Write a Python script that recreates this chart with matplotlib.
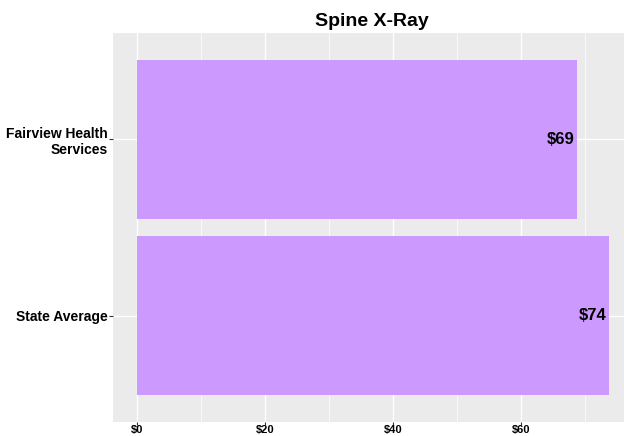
import matplotlib.pyplot as plt
from matplotlib.ticker import MultipleLocator

plt.rcParams['font.family'] = ['Liberation Sans', 'DejaVu Sans']

# data
categories = ['Fairview Health\nServices', 'State Average']
prices = [68.8, 73.8]
labels = ['$69', '$74']
xticks = [0, 20, 40, 60]
xticklabels = ['$0', '$20', '$40', '$60']

fig = plt.figure(figsize=(6.24, 4.36), dpi=100)
ax = fig.add_axes([113 / 624, 14 / 436, 511 / 624, 389 / 436])
ax.set_facecolor('#EBEBEB')

ypos = list(range(len(categories)))
ax.barh(ypos, prices, height=0.9, color='#CC99FF', zorder=3)
for y, v, lab in zip(ypos, prices, labels):
    ax.text(v - 0.5, y, lab, ha='right', va='center', fontsize=12,
            fontweight='bold', zorder=4)

ax.set_xlim(-3.7, 76.1)
ax.set_ylim(len(categories) - 0.4, -0.6)
ax.set_yticks(ypos)
ax.set_yticklabels(categories, fontsize=10, fontweight='bold', ha='right')
ax.set_xticks(xticks)
ax.set_xticklabels(xticklabels, fontsize=8, fontweight='bold')
ax.xaxis.set_minor_locator(MultipleLocator(10))
ax.grid(True, which='major', color='white', linewidth=1.0, zorder=0)
ax.grid(True, which='minor', axis='x', color='white', linewidth=0.5, zorder=0)
ax.tick_params(axis='y', which='major', length=3, color='#333333', pad=1)
ax.tick_params(axis='x', which='major', length=2, color='#333333', pad=0)
ax.tick_params(axis='both', which='minor', length=0)
for s in ax.spines.values():
    s.set_visible(False)

fig.text(372 / 624, 1 - 21 / 436, 'Spine X-Ray', ha='center', va='center',
         fontsize=14, fontweight='bold')

fig.savefig('out.png', dpi=100)
